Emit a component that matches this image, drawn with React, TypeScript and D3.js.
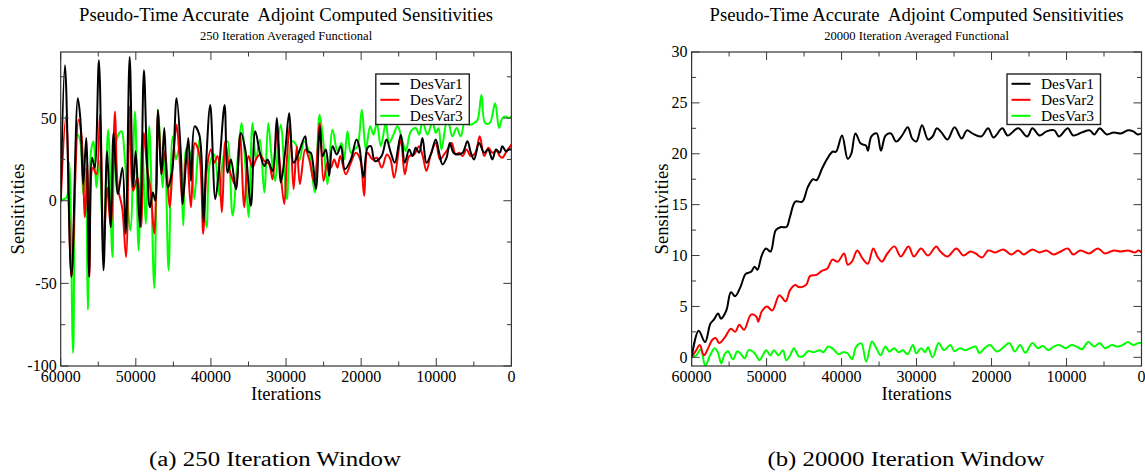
import React from 'react';
import * as d3 from 'd3';

type Pt = [number, number];

// ---------- shared labels ----------
const titleText = 'Pseudo-Time Accurate  Adjoint Computed Sensitivities';
const subtitleLeft = '250 Iteration Averaged Functional';
const subtitleRight = '20000 Iteration Averaged Functional';
const captionLeft = '(a) 250 Iteration Window';
const captionRight = '(b) 20000 Iteration Window';
const xAxisLabel = 'Iterations';
const yAxisLabel = 'Sensitivities';
const seriesNames = ['DesVar1', 'DesVar2', 'DesVar3'];
const seriesColors = ['#000000', '#ff0000', '#00ff00'];

const xTickValues = [60000, 50000, 40000, 30000, 20000, 10000, 0];
const leftYTickValues = [-100, -50, 0, 50];
const rightYTickValues = [0, 5, 10, 15, 20, 25, 30];

// ---------- left panel: 250 iteration window ----------
const leftDesVar1: Pt[] = [
  [60000, 0], [59430, 82], [58570, -46], [57720, 62], [57390, 50], [57000, 10], [56600, 38], [56200, -46],
  [55820, 26], [55480, 20], [54910, 85], [54300, -42], [53820, 30], [53340, -16], [52960, 41], [52390, 4],
  [51780, 20], [51350, -20], [50820, 87], [50350, 8], [50020, 30], [49450, -16], [48920, 79], [48500, 22],
  [48120, -4], [47730, 5], [47400, 0], [47070, 55], [46590, 16], [46210, 44], [45740, 8], [45170, 18],
  [44570, 62], [43990, 27], [43770, -2], [43020, 38], [42660, 12], [42170, 45], [41550, 40], [40980, -13],
  [40670, 20], [40090, 58], [39420, 1], [38890, 21], [38180, 58], [37780, 17], [37340, 25], [36670, 7],
  [36010, 41], [35430, 31], [34680, -3], [34100, 42], [33480, 29], [32900, 21], [32460, 25], [31800, 18],
  [31220, 50], [30690, 11], [30110, 30], [29580, 53], [29000, 23], [28400, 28], [27450, 39], [27140, 30],
  [26700, 29], [26030, 7], [25500, 45], [25140, 27], [24700, 31], [24260, 15], [23810, 33], [23240, 28],
  [22700, 33], [22170, 19], [21370, 25], [20620, 37], [20260, 33], [19690, 14], [19160, 32], [18710, 33],
  [18180, 24], [17290, 27], [16630, 37], [16050, 29], [15520, 23], [14720, 40], [14190, 23], [13610, 31],
  [13150, 27], [12730, 32], [12280, 29], [11840, 38], [11310, 23], [10730, 28], [10070, 37], [9620, 29],
  [9180, 22], [8640, 26], [8200, 35], [7700, 29], [7180, 28], [6500, 29], [5850, 36], [5400, 29],
  [4960, 25], [4300, 35], [3630, 29], [3100, 31], [2530, 25], [2050, 31], [1550, 29], [1200, 33],
  [750, 30], [310, 31], [0, 31],
];

const leftDesVar2: Pt[] = [
  [60000, -1], [59290, 51], [58570, -46], [57620, 49], [57240, 40], [56770, -10], [56430, 22], [56200, -46],
  [55720, 20], [55250, 16], [54770, 52], [54300, -30], [53820, 8], [53340, -16], [52770, 54], [52390, 8],
  [51820, -4], [51300, -34], [50820, 57], [50350, 6], [49780, 14], [49300, -16], [48920, 41], [48500, 20],
  [48020, 6], [47540, -20], [47020, 54], [46590, 16], [46120, 30], [45500, -4], [45100, 20], [44570, 46],
  [44210, 28], [43770, -2], [43240, 31], [42660, -4], [42130, 35], [41550, 28], [41020, -20], [40580, 18],
  [40000, 31], [39560, 23], [39110, 27], [38540, -7], [38090, 36], [37560, 19], [37120, 13], [36670, 9],
  [36140, 40], [35560, -4], [35000, 27], [34460, 20], [34010, 25], [33480, 28], [32900, 24], [32240, 22],
  [31800, 13], [31220, 42], [30820, 22], [30240, -2], [29890, 25], [29490, 46], [29000, 7], [28560, 33],
  [28160, 10], [27450, 31], [26920, 25], [26250, 11], [25500, 47], [25010, 12], [24480, 23], [24030, 20],
  [23590, 25], [23150, 20], [22790, 27], [22040, 16], [21370, 23], [20710, 29], [20130, 25], [19600, 3],
  [19160, 29], [18490, 25], [17900, 26], [17250, 20], [16580, 28], [16100, 25], [15610, 14], [14720, 37],
  [14190, 16], [13610, 27], [12950, 28], [12280, 33], [11800, 27], [11310, 18], [10730, 28], [10070, 35],
  [9500, 25], [8960, 28], [8500, 31], [7940, 35], [7450, 28], [6950, 29], [6500, 27], [5980, 31],
  [5400, 27], [4800, 29], [4210, 39], [3630, 27], [3050, 32], [2530, 29], [1950, 30], [1550, 27],
  [1200, 26], [750, 29], [310, 32], [0, 34],
];

const leftDesVar3: Pt[] = [
  [60000, 0], [59600, 1], [59200, 2], [58850, 23], [58350, -92], [57750, 40], [57390, 36], [57000, 4],
  [56670, 20], [56390, -66], [55960, 30], [55630, 36], [55250, 8], [54870, 24], [54300, -24], [53680, 43],
  [53110, -34], [52630, 36], [51920, 42], [51440, 24], [50730, -18], [50110, 54], [49640, -30], [49160, 36],
  [48690, -14], [48210, 45], [47540, -53], [47020, 55], [46450, 8], [46120, 26], [45640, -42], [45100, 39],
  [44660, 25], [44200, 32], [43680, -15], [43240, 32], [42700, 28], [42220, 1], [41550, 37], [41110, 5],
  [40580, -16], [40130, 23], [39560, 28], [38890, 3], [38400, 25], [37780, 36], [37120, -9], [36450, 25],
  [35920, 47], [35430, 22], [34990, -10], [34460, 47], [34000, 25], [33480, 37], [32900, 5], [32370, 47],
  [31900, 25], [31440, 12], [30990, 39], [30700, 46], [29890, 1], [29270, 36], [28690, 34], [28250, 24],
  [27580, 36], [26920, 29], [26160, 5], [25540, 52], [25050, 36], [24480, 10], [23810, 43], [23150, 30],
  [22620, 35], [22260, 25], [21820, 42], [21370, 29], [20930, 31], [20490, 33], [19910, 55], [19380, 31],
  [18800, 45], [18360, 40], [17910, 47], [17380, 33], [16720, 47], [16270, 35], [15700, 40], [15160, 45],
  [14500, 36], [14060, 30], [13390, 42], [12730, 44], [12280, 40], [11840, 48], [11170, 40], [10510, 48],
  [10070, 41], [9700, 44], [9310, 31], [8510, 50], [7850, 39], [7300, 44], [6740, 39], [6160, 49],
  [5630, 46], [4960, 47], [4500, 49], [3990, 64], [3500, 47], [2880, 47], [2170, 59], [1640, 44],
  [1200, 50], [750, 51], [310, 50], [0, 51],
];

// ---------- right panel: 20000 iteration window ----------
const rightDesVar1: Pt[] = [
  [60000, 0], [59060, 2.6], [58200, 1.5], [57500, 3.3], [57030, 3.7], [56460, 4.3], [56080, 3.8], [55370, 4.6],
  [54760, 6.4], [54190, 6.0], [53490, 6.9], [52780, 8.2], [52070, 8.4], [51600, 8.9], [51220, 8.6], [50650, 10.0],
  [50090, 10.7], [49470, 10.4], [48770, 12.5], [48060, 12.8], [47350, 12.8], [46880, 13.8], [46170, 15.3], [45230, 15.3],
  [44520, 16.7], [43810, 17.5], [43340, 17.4], [42630, 18.5], [41920, 19.5], [41210, 20.2], [40740, 20.2], [39940, 21.8],
  [39180, 19.5], [38710, 20.0], [38150, 22.0], [37440, 21.0], [36730, 20.8], [36490, 20.3], [36020, 21.7], [35310, 22.0],
  [34750, 20.3], [34130, 21.8], [33430, 22.0], [32720, 21.2], [32010, 21.7], [31160, 22.6], [30590, 21.5], [30030, 21.2],
  [29270, 22.8], [28470, 21.4], [27860, 21.7], [27290, 22.5], [26680, 22.1], [25870, 21.4], [24930, 22.6], [23990, 21.5],
  [23280, 22.3], [22570, 22.0], [21390, 21.7], [20450, 22.5], [19740, 21.6], [18560, 22.5], [17850, 21.8], [16440, 22.5],
  [15250, 21.7], [14550, 22.5], [13600, 21.8], [12660, 22.2], [11620, 22.3], [11000, 21.7], [9830, 22.5], [9120, 21.8],
  [7940, 22.1], [6900, 22.3], [6290, 21.9], [5580, 22.5], [4640, 21.9], [3690, 22.1], [2750, 22.0], [1800, 22.3],
  [1100, 22.2], [480, 21.9], [0, 22.0],
];

const rightDesVar2: Pt[] = [
  [60000, 0], [59390, 0.7], [58910, 1.2], [58350, 0.2], [57730, 1.0], [57260, 1.7], [56790, 1.9], [56320, 1.4],
  [55610, 1.9], [54760, 2.8], [54190, 2.5], [53630, 3.2], [53010, 2.7], [52070, 4.2], [51360, 4.0], [51120, 3.5],
  [50650, 4.5], [49950, 5.0], [49240, 4.6], [48300, 6.1], [47450, 5.5], [46880, 6.6], [46170, 7.1], [45700, 6.9],
  [44750, 7.1], [44190, 8.0], [43340, 8.1], [42630, 8.5], [41920, 8.7], [41210, 9.6], [40510, 9.4], [39660, 10.2],
  [39180, 9.1], [38620, 9.4], [37910, 10.5], [37200, 9.7], [36490, 9.2], [35780, 10.7], [35220, 9.9], [34610, 9.4],
  [33900, 10.2], [32950, 10.9], [32100, 9.9], [31070, 10.9], [30360, 9.9], [29410, 10.7], [28470, 10.0], [27380, 10.9],
  [26820, 10.4], [25870, 9.9], [24690, 10.7], [23750, 10.0], [22810, 10.4], [22100, 10.2], [21250, 9.8], [20450, 10.5],
  [19500, 10.3], [18420, 10.6], [17380, 10.1], [16440, 10.5], [15730, 10.1], [14550, 10.6], [13600, 10.3], [12660, 10.5],
  [11720, 10.1], [10770, 10.4], [9830, 10.7], [9120, 10.1], [8170, 10.5], [6990, 10.2], [5820, 10.7], [4870, 10.2],
  [3690, 10.5], [2750, 10.4], [1800, 10.5], [860, 10.3], [390, 10.5], [0, 10.3],
];

const rightDesVar3: Pt[] = [
  [60000, 0], [59370, 0.2], [58790, 0.8], [58170, -0.85], [57590, 0.1], [56930, 0.9], [56500, 0.5], [56040, -0.6],
  [55600, 0.3], [55150, 0.6], [54480, -0.2], [53900, 0.6], [53400, 0.3], [52930, -0.1], [52390, 0.7], [51810, 0.55],
  [51400, 0.2], [50930, -0.3], [50500, 0.2], [50040, 0.7], [49500, 0.2], [49020, 0.7], [48400, 0.2], [47820, 0.7],
  [47370, -0.3], [46850, 0.2], [46350, 0.9], [45700, 0.1], [45150, 0.1], [44480, 0.6], [43700, 0.5], [42930, 0.7],
  [42400, 0.5], [41820, 1.05], [41100, 0.8], [40390, 0.3], [39800, 0.5], [39200, 0.4], [38620, -0.2], [38040, 1.05],
  [37370, 1.37], [36710, -0.43], [35950, 1.55], [35370, 0.9], [34800, 0.2], [34170, 1.05], [33600, 0.55], [33000, 0.9],
  [32400, 0.5], [31820, 0.7], [31200, 0.3], [30490, 1.2], [30040, 0.4], [29380, 0.9], [28840, 0.5], [28470, 1.0],
  [27860, 0.0], [27050, 1.4], [26350, 0.7], [25500, 1.2], [24930, 0.6], [24220, 0.9], [23510, 0.7], [22810, 0.9],
  [22100, 1.05], [21630, 0.4], [20920, 0.9], [20210, 1.2], [19270, 0.56], [18320, 1.05], [17610, 1.4], [16910, 0.56],
  [16200, 1.2], [15490, 0.45], [14550, 1.4], [13840, 0.9], [13130, 1.1], [12420, 0.7], [11720, 1.05], [11000, 1.2],
  [10060, 0.9], [9350, 1.2], [8650, 1.05], [7940, 0.8], [7090, 1.5], [6290, 1.05], [5580, 1.4], [4870, 0.9],
  [3930, 1.2], [3220, 1.05], [2510, 1.2], [1800, 1.5], [1100, 1.2], [390, 1.4], [0, 1.4],
];

const FONT = '"Liberation Serif", "Times New Roman", Times, serif';

interface PanelProps {
  id: string;
  x0: number; x1: number; y0: number; y1: number;
  yDomain: [number, number];
  yMajor: number[];
  yMinorStep: number;
  series: Pt[][];
  subtitle: string;
  legendX: number;
  yLabelX: number;
  caption: string;
  captionX: number;
  captionLen: number;
}

function Panel(p: PanelProps) {
  const x = d3.scaleLinear().domain([60000, 0]).range([p.x0, p.x1]);
  const y = d3.scaleLinear().domain(p.yDomain).range([p.y1, p.y0]);
  const line = d3.line<Pt>().x(d => x(d[0])).y(d => y(d[1])).curve(d3.curveCatmullRom.alpha(0.5));
  const xMinor = d3.range(60000, -1, -5000);
  const yStart = Math.ceil(p.yDomain[0] / p.yMinorStep) * p.yMinorStep;
  const yMinor = d3.range(yStart, p.yDomain[1] + 1e-6, p.yMinorStep);
  const isMajorX = (v: number) => v % 10000 === 0;
  const isMajorY = (v: number) => p.yMajor.some(m => Math.abs(m - v) < 1e-6) || Math.abs(v % (p.yMinorStep * 2)) < 1e-6;
  const cx = (p.x0 + p.x1) / 2;
  const cy = (p.y0 + p.y1) / 2;
  const tickColor = '#3a3a3a';
  const lx = p.legendX;
  const ly = 74;
  return (
    <g>
      <defs>
        <clipPath id={p.id}>
          <rect x={p.x0} y={p.y0} width={p.x1 - p.x0} height={p.y1 - p.y0} />
        </clipPath>
      </defs>
      <text x={cx} y={20.5} textAnchor="middle" fontFamily={FONT} fontSize={18.7} style={{ whiteSpace: 'pre' }}>{titleText}</text>
      <text x={cx} y={39.5} textAnchor="middle" fontFamily={FONT} fontSize={12.6}>{p.subtitle}</text>
      <g clipPath={`url(#${p.id})`}>
        {p.series.slice().reverse().map((s, i) => {
          const k = p.series.length - 1 - i;
          return <path key={k} d={line(s) || ''} fill="none" stroke={seriesColors[k]} strokeWidth={2} strokeLinejoin="round" />;
        })}
      </g>
      {xMinor.map(v => {
        const len = isMajorX(v) ? 8 : 4.5;
        return (
          <g key={'xt' + v}>
            <line x1={x(v)} x2={x(v)} y1={p.y1} y2={p.y1 - len} stroke={tickColor} strokeWidth={1} />
            <line x1={x(v)} x2={x(v)} y1={p.y0} y2={p.y0 + len} stroke={tickColor} strokeWidth={1} />
          </g>
        );
      })}
      {yMinor.map(v => {
        const len = isMajorY(v) ? 8 : 4.5;
        return (
          <g key={'yt' + v}>
            <line x1={p.x0} x2={p.x0 + len} y1={y(v)} y2={y(v)} stroke={tickColor} strokeWidth={1} />
            <line x1={p.x1} x2={p.x1 - len} y1={y(v)} y2={y(v)} stroke={tickColor} strokeWidth={1} />
          </g>
        );
      })}
      <rect x={p.x0} y={p.y0} width={p.x1 - p.x0} height={p.y1 - p.y0} fill="none" stroke="#333" strokeWidth={1.2} />
      {xTickValues.map(v => (
        <text key={'xl' + v} x={x(v)} y={381.5} textAnchor="middle" fontFamily={FONT} fontSize={16}>{v}</text>
      ))}
      {p.yMajor.map(v => (
        <text key={'yl' + v} x={p.x0 - 4} y={y(v) + 5.4} textAnchor="end" fontFamily={FONT} fontSize={16}>{v}</text>
      ))}
      <text x={cx} y={400} textAnchor="middle" fontFamily={FONT} fontSize={18.6}>{xAxisLabel}</text>
      <text transform={`translate(${p.yLabelX},${cy}) rotate(-90)`} textAnchor="middle" fontFamily={FONT} fontSize={18.6}>{yAxisLabel}</text>
      <rect x={lx} y={ly} width={93.5} height={50.5} fill="#fff" stroke="#222" strokeWidth={1.4} />
      {seriesNames.map((n, i) => (
        <g key={n}>
          <line x1={lx + 4.5} x2={lx + 23.5} y1={ly + 9.8 + i * 16} y2={ly + 9.8 + i * 16} stroke={seriesColors[i]} strokeWidth={2} />
          <text x={lx + 34} y={ly + 15 + i * 16} fontFamily={FONT} fontSize={15.4}>{n}</text>
        </g>
      ))}
      <text x={p.captionX} y={466} textAnchor="middle" fontFamily={FONT} fontSize={20} textLength={p.captionLen} lengthAdjust="spacingAndGlyphs">{p.caption}</text>
    </g>
  );
}

export default function App() {
  return (
    <svg width={1145} height={475} viewBox="0 0 1145 475" style={{ position: 'absolute', left: 0, top: 0, background: '#fff' }}>
      <rect x={0} y={0} width={1145} height={475} fill="#fff" />
      <Panel
        id="clipA" x0={60.7} x1={511.4} y0={52} y1={366}
        yDomain={[-100, 90]} yMajor={leftYTickValues} yMinorStep={25}
        series={[leftDesVar1, leftDesVar2, leftDesVar3]}
        subtitle={subtitleLeft} legendX={375.8} yLabelX={24}
        caption={captionLeft} captionX={275} captionLen={252}
      />
      <Panel
        id="clipB" x0={691.6} x1={1141.5} y0={52} y1={366}
        yDomain={[-0.854, 30]} yMajor={rightYTickValues} yMinorStep={2.5}
        series={[rightDesVar1, rightDesVar2, rightDesVar3]}
        subtitle={subtitleRight} legendX={1007} yLabelX={668}
        caption={captionRight} captionX={906} captionLen={277}
      />
    </svg>
  );
}
